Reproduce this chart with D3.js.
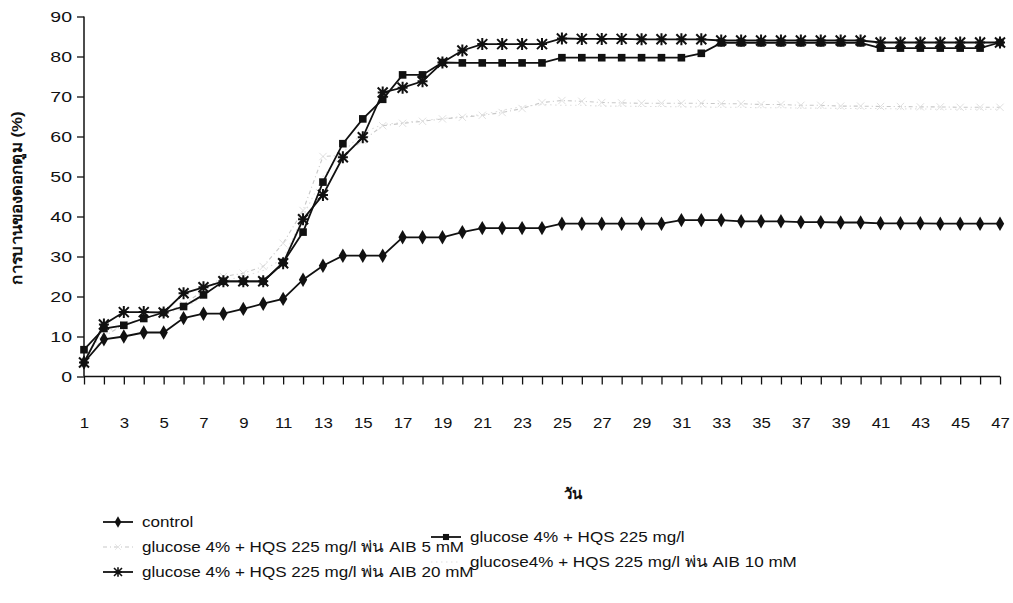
<!DOCTYPE html>
<html>
<head>
<meta charset="utf-8">
<script src="https://cdn.jsdelivr.net/npm/d3@7/dist/d3.min.js"></script>
<style>
  html, body { margin: 0; padding: 0; background: #fff; }
  svg { display: block; font-family: "Liberation Sans", Arial, "Noto Sans", sans-serif; }
</style>
</head>
<body>
<svg id="chart" width="1013" height="603"></svg>
<script>
// Days after treatment (category axis)
const days = [1,2,3,4,5,6,7,8,9,10,11,12,13,14,15,16,17,18,19,20,21,22,23,24,
              25,26,27,28,29,30,31,32,33,34,35,36,37,38,39,40,41,42,43,44,45,46,47];

// Odd days carry a label on the axis
const dayLabels = [1,3,5,7,9,11,13,15,17,19,21,23,25,27,29,31,33,35,37,39,41,43,45,47];

const yTicks = [0,10,20,30,40,50,60,70,80,90];

// Bud opening (%) for each treatment
const control = [3.5, 9.3, 10.0, 11.0, 11.0, 14.6, 15.7, 15.7, 16.9, 18.2, 19.4,
  24.2, 27.7, 30.2, 30.2, 30.2, 34.8, 34.8, 34.8, 36.1, 37.1, 37.1, 37.1, 37.1,
  38.2, 38.2, 38.2, 38.2, 38.2, 38.2, 39.1, 39.1, 39.1, 38.8, 38.8, 38.8, 38.6,
  38.6, 38.5, 38.5, 38.3, 38.3, 38.3, 38.2, 38.2, 38.2, 38.2];

const glucoseHqs = [6.7, 12.0, 12.8, 14.5, 16.0, 17.5, 20.4, 23.8, 23.8, 23.8, 28.5,
  36.1, 48.6, 58.2, 64.4, 69.3, 75.4, 75.4, 78.5, 78.4, 78.4, 78.4, 78.4, 78.4,
  79.7, 79.7, 79.7, 79.7, 79.7, 79.7, 79.7, 80.8, 83.4, 83.4, 83.4, 83.4, 83.4,
  83.4, 83.4, 83.4, 82.1, 82.1, 82.1, 82.1, 82.1, 82.1, 83.5];

const aib5 = [3.0, 10.0, 13.0, 14.6, 15.8, 18.0, 21.5, 25.0, 25.8, 27.5, 33.3,
  41.5, 55.0, 55.3, 59.0, 62.7, 63.3, 63.8, 64.4, 64.8, 65.3, 66.0, 67.0, 68.5,
  69.0, 68.8, 68.5, 68.4, 68.3, 68.3, 68.3, 68.3, 68.2, 68.2, 68.0, 68.0, 67.8,
  67.8, 67.6, 67.6, 67.5, 67.5, 67.4, 67.4, 67.3, 67.3, 67.3];

const aib10 = [4.5, 11.0, 12.8, 14.5, 15.8, 17.0, 20.0, 24.0, 25.0, 26.5, 29.5,
  40.0, 50.0, 56.0, 61.0, 63.0, 63.5, 64.0, 64.5, 65.0, 65.5, 66.5, 67.5, 68.0,
  67.8, 67.8, 67.6, 67.6, 67.5, 67.5, 67.4, 67.4, 67.3, 67.3, 67.2, 67.2, 67.1,
  67.1, 67.0, 67.0, 67.0, 66.9, 66.9, 66.8, 66.8, 66.8, 66.8];

const aib20 = [3.5, 13.0, 16.1, 16.1, 16.0, 20.8, 22.3, 23.8, 23.8, 23.8, 28.3,
  39.3, 45.4, 54.8, 59.8, 71.0, 72.2, 73.8, 78.5, 81.5, 83.1, 83.1, 83.1, 83.1,
  84.5, 84.4, 84.4, 84.4, 84.3, 84.3, 84.3, 84.3, 84.0, 84.0, 84.0, 84.0, 84.0,
  84.0, 84.0, 84.0, 83.5, 83.5, 83.5, 83.5, 83.5, 83.5, 83.5];

const seriesNames = [
  "control",
  "glucose 4% + HQS 225 mg/l",
  "glucose 4% + HQS 225 mg/l พ่น AIB 5 mM",
  "glucose4% + HQS 225 mg/l  พ่น AIB 10 mM",
  "glucose 4% + HQS 225 mg/l พ่น AIB 20 mM"
];

const svg = d3.select("#chart");

// Widen a text element horizontally by a factor, keeping its anchor
function widen(sel, factor) {
  sel.each(function () {
    const len = this.getComputedTextLength();
    if (len > 0) {
      d3.select(this)
        .attr("textLength", len * factor)
        .attr("lengthAdjust", "spacingAndGlyphs");
    }
  });
}

const x = d3.scalePoint().domain(days).range([84, 1000]);
const y = d3.scaleLinear().domain([0, 90]).range([376.5, 16.5]);

// Axes
const xAxis = d3.axisBottom(x)
  .tickSize(8)
  .tickPadding(33)
  .tickFormat(d => dayLabels.includes(d) ? d : "");
const gx = svg.append("g").attr("transform", `translate(0,${y(0)})`).call(xAxis);
gx.select(".domain").attr("d", `M84,0H1000`).attr("stroke", "#111").attr("stroke-width", 1.5);
gx.selectAll(".tick line").attr("stroke", "#111").attr("stroke-width", 1.3);
gx.selectAll(".tick text").attr("font-size", 15).attr("fill", "#111").call(widen, 1.12);

const yAxis = d3.axisLeft(y).tickValues(yTicks).tickSize(7).tickPadding(5);
const gy = svg.append("g").attr("transform", `translate(84,0)`).call(yAxis);
gy.select(".domain").attr("d", `M0,${y(90)}V${y(0)}`).attr("stroke", "#111").attr("stroke-width", 1.5);
gy.selectAll(".tick line").attr("stroke", "#111").attr("stroke-width", 1.3);
gy.selectAll(".tick text").attr("font-size", 15).attr("fill", "#111").call(widen, 1.3);

// Axis titles
svg.append("text")
  .attr("transform", "translate(22,198) rotate(-90)")
  .attr("text-anchor", "middle")
  .attr("font-size", 15)
  .attr("font-weight", "bold")
  .attr("fill", "#111")
  .text("การบานของดอกตูม (%)")
  .call(widen, 1.12);

svg.append("text")
  .attr("x", 573).attr("y", 499)
  .attr("text-anchor", "middle")
  .attr("font-size", 15)
  .attr("font-weight", "bold")
  .attr("fill", "#111")
  .text("วัน");

// Marker shapes
const diamondPath = d3.symbol().type(d3.symbolDiamond).size(60)();
const squarePath = d3.symbol().type(d3.symbolSquare).size(58)();
const crossPath = d3.symbol().type(d3.symbolX).size(36)();
const asteriskPath = "M-5,-5L5,5M-5,5L5,-5M0,-6V6M-5,0H5";

const styles = [
  { data: control, stroke: "#111", width: 1.8, dash: null, marker: diamondPath, fill: "#111", mstroke: "none" },
  { data: glucoseHqs, stroke: "#111", width: 1.8, dash: null, marker: squarePath, fill: "#111", mstroke: "none" },
  { data: aib5, stroke: "#c8c8c8", width: 1.1, dash: "4,3,1,3", marker: crossPath, fill: "none", mstroke: "#e0e0e0" },
  { data: aib10, stroke: "#dedede", width: 1.1, dash: "1.5,3.5", marker: null, fill: "none", mstroke: "#dedede" },
  { data: aib20, stroke: "#111", width: 1.8, dash: null, marker: asteriskPath, fill: "none", mstroke: "#111" }
];

const line = d3.line().x((d, i) => x(days[i])).y(d => y(d));

// Light series drawn first so the darker ones sit on top
const order = [3, 2, 0, 1, 4];
order.forEach(k => {
  const s = styles[k];
  const g = svg.append("g");
  g.append("path")
    .attr("d", line(s.data))
    .attr("fill", "none")
    .attr("stroke", s.stroke)
    .attr("stroke-width", s.width)
    .attr("stroke-dasharray", s.dash);
  if (s.marker) {
    g.selectAll("path.m").data(s.data).join("path")
      .attr("class", "m")
      .attr("d", s.marker)
      .attr("transform", (d, i) => `translate(${x(days[i])},${y(d)})`)
      .attr("fill", s.fill)
      .attr("stroke", s.mstroke)
      .attr("stroke-width", k === 4 ? 2 : 1);
  }
});

// Legend
const legendItems = [
  { s: 0, lx: 103, ly: 522 },
  { s: 2, lx: 103, ly: 547 },
  { s: 4, lx: 103, ly: 572 },
  { s: 1, lx: 431, ly: 537 },
  { s: 3, lx: 431, ly: 562 }
];
const lg = svg.append("g");
legendItems.forEach(it => {
  const s = styles[it.s];
  lg.append("line")
    .attr("x1", it.lx).attr("x2", it.lx + 30)
    .attr("y1", it.ly).attr("y2", it.ly)
    .attr("stroke", s.stroke)
    .attr("stroke-width", s.width)
    .attr("stroke-dasharray", s.dash);
  if (s.marker) {
    lg.append("path")
      .attr("d", s.marker)
      .attr("transform", `translate(${it.lx + 15},${it.ly}) scale(0.8)`)
      .attr("fill", s.fill)
      .attr("stroke", s.mstroke)
      .attr("stroke-width", it.s === 4 ? 2 : 1);
  }
  lg.append("text")
    .attr("x", it.lx + 39).attr("y", it.ly + 5)
    .attr("font-size", 15.5)
    .attr("fill", "#111")
    .text(seriesNames[it.s])
    .call(widen, 1.1);
});
</script>
</body>
</html>
